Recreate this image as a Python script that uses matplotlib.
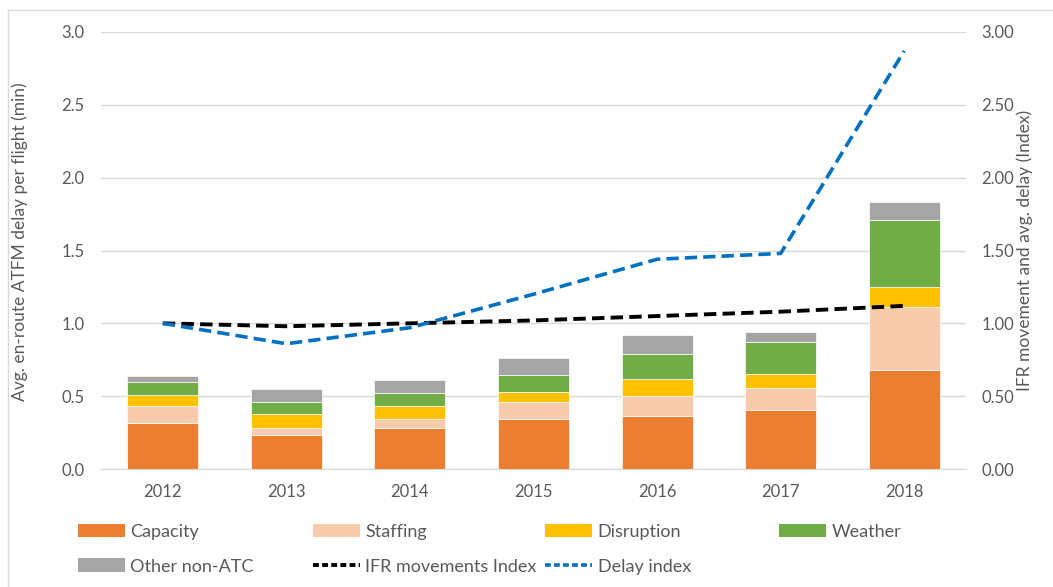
import matplotlib.pyplot as plt
from matplotlib.patches import Patch
from matplotlib.lines import Line2D
import numpy as np

plt.rcParams['font.family'] = ['Lato', 'DejaVu Sans']

years = ["2012", "2013", "2014", "2015", "2016", "2017", "2018"]
# segment heights
capacity = [0.316, 0.231, 0.281, 0.343, 0.364, 0.405, 0.680]
staffing = [0.119, 0.048, 0.062, 0.117, 0.137, 0.151, 0.432]
disruption = [0.071, 0.101, 0.092, 0.071, 0.115, 0.096, 0.137]
weather = [0.091, 0.080, 0.089, 0.114, 0.174, 0.220, 0.460]
other = [0.039, 0.087, 0.087, 0.117, 0.128, 0.071, 0.124]
ifr_index = [1.00, 0.98, 1.00, 1.02, 1.05, 1.08, 1.12]
delay_index = [1.00, 0.86, 0.97, 1.20, 1.44, 1.48, 2.87]

names = ["Capacity", "Staffing", "Disruption", "Weather", "Other non-ATC"]
colors = ["#ED7D31", "#F8CBAD", "#FFC000", "#70AD47", "#A5A5A5"]
grey = "#595959"

fig = plt.figure(figsize=(10.53, 5.87), dpi=100)
ax = fig.add_axes([0.0959, 0.201, 0.8215, 0.7445])
x = np.arange(len(years))

bottom = np.zeros(len(years))
for vals, c in zip([capacity, staffing, disruption, weather, other], colors):
    ax.bar(x, vals, 0.575, bottom=bottom, color=c, edgecolor="white", linewidth=0.5, zorder=2)
    bottom += np.array(vals)

ax.set_xlim(-0.5, 6.5)
ax.set_ylim(0, 3.0)
ax.set_yticks(np.arange(0, 3.01, 0.5))
ax.set_yticklabels([f"{v:.1f}" for v in np.arange(0, 3.01, 0.5)])
ax.set_xticks(x)
ax.set_xticklabels(years)
ax.grid(axis="y", color="#d9d9d9", linewidth=1, zorder=0)
ax.set_axisbelow(True)
for s in ["top", "left", "right"]:
    ax.spines[s].set_visible(False)
ax.spines["bottom"].set_color("#d9d9d9")
ax.tick_params(axis="both", length=0, colors=grey, labelsize=12)
ax.tick_params(axis="y", pad=12)
ax.tick_params(axis="x", pad=11)
ax.set_ylabel("Avg. en-route ATFM delay per flight (min)", fontsize=12.5, color=grey)
ax.yaxis.set_label_coords(-0.084, 0.52)

ax2 = ax.twinx()
ax2.set_ylim(0, 3.0)
ax2.set_yticks(np.arange(0, 3.01, 0.5))
ax2.set_yticklabels([f"{v:.2f}" for v in np.arange(0, 3.01, 0.5)])
for s in ax2.spines.values():
    s.set_visible(False)
ax2.tick_params(axis="y", length=0, colors=grey, labelsize=12, pad=11)
ax2.plot(x, ifr_index, color="black", linewidth=2.8, dashes=(3.2, 1.6))
ax2.plot(x, delay_index, color="#0070C0", linewidth=2.6, dashes=(3.4, 1.7))
ax2.set_ylabel("IFR movement and avg. delay (Index)", fontsize=12.5, color=grey)
ax2.yaxis.set_label_coords(1.058, 0.5)

# chart-area frame (Excel style)
fig.add_artist(Line2D([0.0076, 0.0076], [0.0, 0.983], transform=fig.transFigure, color="#d9d9d9", linewidth=1))
fig.add_artist(Line2D([0.0076, 1.0], [0.983, 0.983], transform=fig.transFigure, color="#d9d9d9", linewidth=1))

patches = [Patch(facecolor=c, label=n) for n, c in zip(names, colors)]
ifr_h = Line2D([], [], color="black", linewidth=2.8, dashes=(1.5, 0.85), label="IFR movements Index")
del_h = Line2D([], [], color="#0070C0", linewidth=2.6, dashes=(1.6, 0.9), label="Delay index")
columns = [[patches[0], patches[4]], [patches[1], ifr_h], [patches[2], del_h], [patches[3]]]
col_x = [0.074, 0.297, 0.518, 0.740]
for hs, cx in zip(columns, col_x):
    fig.legend(handles=hs, loc="upper left", bbox_to_anchor=(cx, 0.108), frameon=False,
               fontsize=13, labelcolor=grey, handlelength=2.6, handleheight=0.8,
               handletextpad=0.3, labelspacing=1.03, borderaxespad=0, borderpad=0)

fig.savefig("out.png", dpi=100)
